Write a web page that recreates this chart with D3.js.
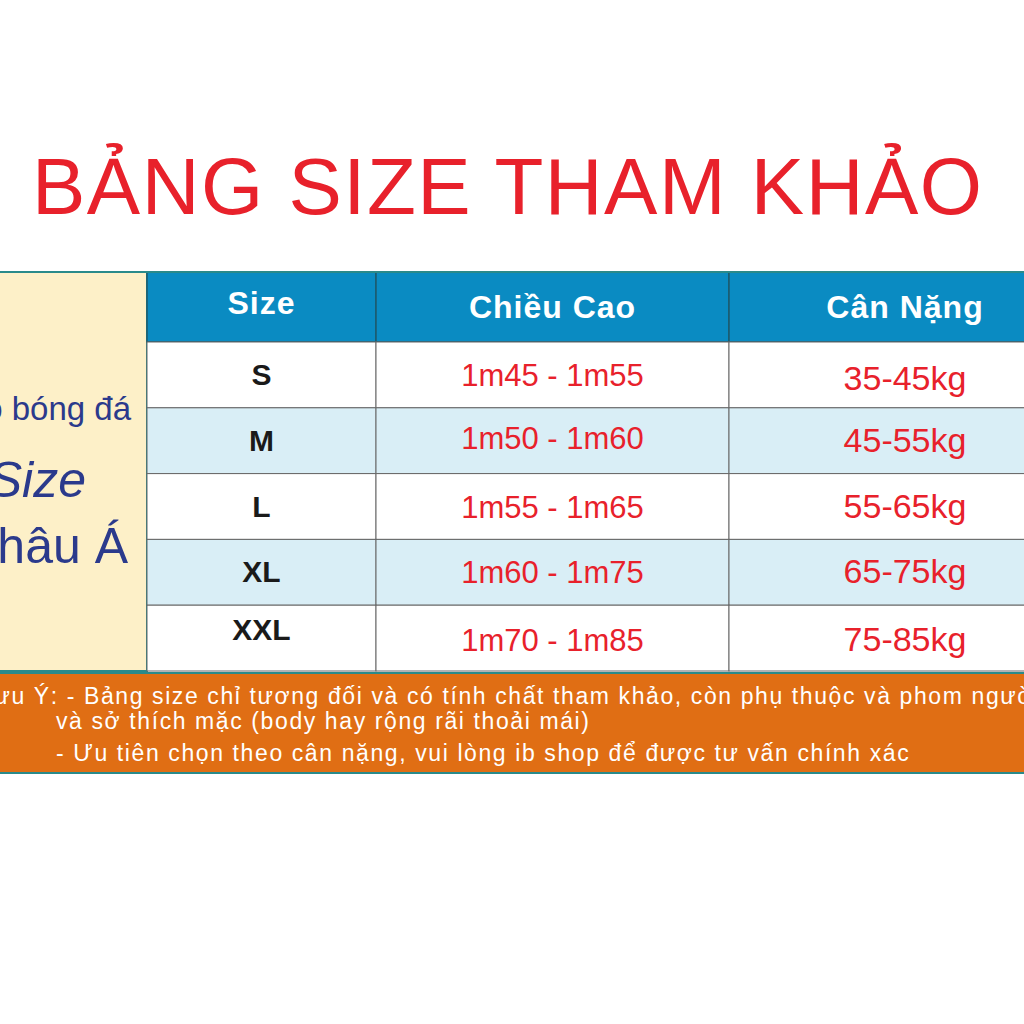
<!DOCTYPE html><html><head><meta charset="utf-8">
<script src="https://cdn.jsdelivr.net/npm/d3@7"></script>
<style>body{margin:0;background:#fff}</style></head><body>
<script>
const title = "BẢNG SIZE THAM KHẢO";
const headers = ["Size", "Chiều Cao", "Cân Nặng"];
const sizes = ["S", "M", "L", "XL", "XXL"];
const heights = ["1m45 - 1m55", "1m50 - 1m60", "1m55 - 1m65", "1m60 - 1m75", "1m70 - 1m85"];
const weights = ["35-45kg", "45-55kg", "55-65kg", "65-75kg", "75-85kg"];
const sideText = ["Áo bóng đá", "Size", "Châu Á"];
const notes = ["Lưu Ý: - Bảng size chỉ tương đối và có tính chất tham khảo, còn phụ thuộc và phom người",
  "và sở thích mặc (body hay rộng rãi thoải mái)",
  "- Ưu tiên chọn theo cân nặng, vui lòng ib shop để được tư vấn chính xác"];

const svg = d3.select("body").append("svg").attr("width",1024).attr("height",1024);
const F = "'Liberation Sans', Arial, sans-serif";
svg.append("text").attr("x",507).attr("y",214).attr("text-anchor","middle")
  .attr("font-family",F).attr("font-size",80).attr("fill","#e8212b").attr("textLength",950).text(title);

const colX = [147,376,729,1030];
const y = d3.scaleBand().domain(d3.range(5)).range([342,671]);
svg.append("rect").attr("x",-5).attr("y",272).attr("width",152).attr("height",399).attr("fill","#fdf0c8").attr("stroke","#2a8a8a").attr("stroke-width",2);
svg.append("text").attr("x",131).attr("y",420).attr("text-anchor","end").attr("font-family",F).attr("font-size",33).attr("fill","#2b3a8c").text(sideText[0]);
svg.append("text").attr("x",86).attr("y",497).attr("text-anchor","end").attr("font-family",F).attr("font-style","italic").attr("font-size",50).attr("fill","#2b3a8c").text(sideText[1]);
svg.append("text").attr("x",128).attr("y",563).attr("text-anchor","end").attr("font-family",F).attr("font-size",50).attr("fill","#2b3a8c").text(sideText[2]);
headers.forEach((h,i)=>{
  svg.append("rect").attr("x",colX[i]).attr("y",272).attr("width",colX[i+1]-colX[i]).attr("height",70).attr("fill","#0a8bc2").attr("stroke","#1d5b6e").attr("stroke-width",1.5);
  svg.append("text").attr("x",i==2?905:(colX[i]+colX[i+1])/2).attr("y",i==0?314:318).attr("text-anchor","middle")
   .attr("font-family",F).attr("font-weight","bold").attr("font-size",32).attr("letter-spacing",1).attr("fill","#fff").text(h);
});
const cols=[sizes,heights,weights];
sizes.forEach((s,r)=>{
  cols.forEach((c,i)=>{
    svg.append("rect").attr("x",colX[i]).attr("y",y(r)).attr("width",colX[i+1]-colX[i]).attr("height",y.bandwidth())
     .attr("fill",r%2?"#d9eef6":"#fff").attr("stroke","#666").attr("stroke-width",1);
    const cx = i==2?905:(colX[i]+colX[i+1])/2;
    const t = svg.append("text").attr("x",cx).attr("text-anchor","middle").attr("font-family",F).text(c[r]);
    if(i==0) t.attr("y",y(r)+43-(r==4?8:0)).attr("font-weight","bold").attr("font-size",30).attr("fill","#1a1a1a");
    else if(i==1) t.attr("y",y(r)+ (r==0?44:r==1?41:r==4?46:44)).attr("font-size",31).attr("fill","#e8212b");
    else t.attr("y",y(r)+(r==4?46:r==0?48:44)).attr("font-size",34).attr("fill","#e8212b");
  });
});
svg.append("line").attr("x1",0).attr("x2",1024).attr("y1",272).attr("y2",272).attr("stroke","#2a8a8a").attr("stroke-width",2);
svg.append("rect").attr("x",-5).attr("y",673).attr("width",1035).attr("height",100).attr("fill","#e06e14").attr("stroke","#2a8a8a").attr("stroke-width",2);
const nx=[-20,56,56], ny=[704,729,761];
notes.forEach((n,i)=>svg.append("text").attr("x",nx[i]).attr("y",ny[i]).attr("font-family",F).attr("font-size",23).attr("letter-spacing",1.6).attr("fill","#fff").text(n));
</script></body></html>
